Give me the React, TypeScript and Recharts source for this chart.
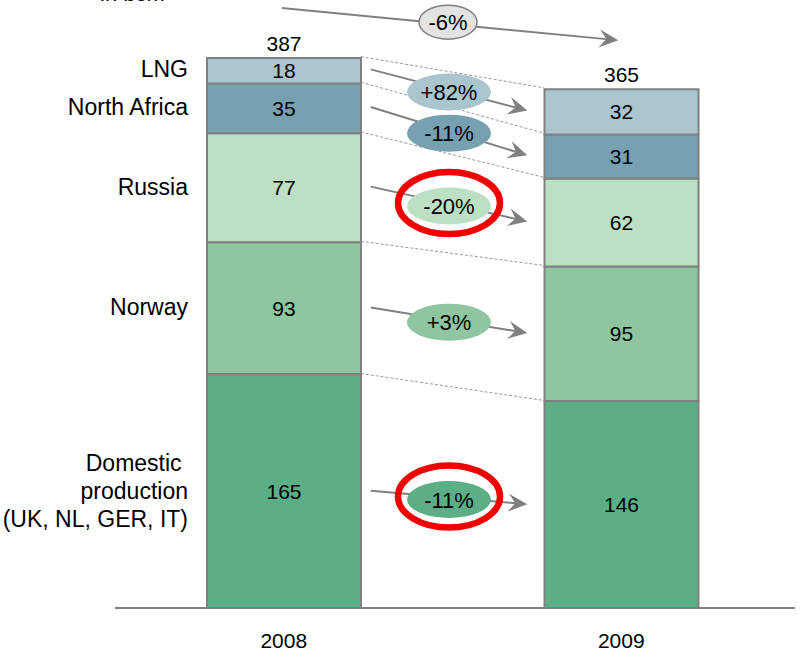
import React from 'react';
import { BarChart, Bar, XAxis, YAxis, LabelList, Customized } from 'recharts';

const years = ['2008', '2009'];
const domestic = [165, 146];
const norway = [93, 95];
const russia = [77, 62];
const northAfrica = [35, 31];
const lng = [18, 32];
const totals = [387, 365];
const changes = ['-11%', '+3%', '-20%', '-11%', '+82%'];
const totalChange = '-6%';

const series = [
  { key: 'domestic', label: ['Domestic ', 'production', '(UK, NL, GER, IT)'], values: domestic, color: '#5bae85', change: changes[0], ring: true },
  { key: 'norway', label: ['Norway'], values: norway, color: '#8fc5a0', change: changes[1], ring: false },
  { key: 'russia', label: ['Russia'], values: russia, color: '#bddfc4', change: changes[2], ring: true },
  { key: 'northAfrica', label: ['North Africa'], values: northAfrica, color: '#77a1b1', change: changes[3], ring: false },
  { key: 'lng', label: ['LNG'], values: lng, color: '#abc5ce', change: changes[4], ring: false },
];

const data = years.map((year, i) => {
  const row: any = { year, total: totals[i] };
  series.forEach((s) => (row[s.key] = s.values[i]));
  return row;
});

// layout, shared by the chart and the overlay
const W = 804;
const H = 672;
const margin = { top: 58, right: 9, bottom: 30, left: 115 };
const xAxisHeight = 34;
const xPad = { left: 0, right: 5 };
const yMax = 387;
const barSize = 154;
const plotBottom = H - margin.bottom - xAxisHeight;
const plotH = plotBottom - margin.top;
const yPx = (v: number) => plotBottom - (v / yMax) * plotH;
const bandW = (W - margin.left - margin.right - xPad.left - xPad.right) / years.length;
const xMid = (i: number) => margin.left + xPad.left + bandW * (i + 0.5);

const grey = '#808080';
const font = 'Liberation Sans, Arial, sans-serif';

function Arrow({ x1, y1, x2, y2 }: { x1: number; y1: number; x2: number; y2: number }) {
  const len = Math.hypot(x2 - x1, y2 - y1);
  const ux = (x2 - x1) / len;
  const uy = (y2 - y1) / len;
  const nx = -uy;
  const ny = ux;
  const pts = [
    [x2, y2],
    [x2 - 19 * ux + 9 * nx, y2 - 19 * uy + 9 * ny],
    [x2 - 12 * ux, y2 - 12 * uy],
    [x2 - 19 * ux - 9 * nx, y2 - 19 * uy - 9 * ny],
  ];
  return (
    <g>
      <line x1={x1} y1={y1} x2={x2 - 12 * ux} y2={y2 - 12 * uy} stroke={grey} strokeWidth={2} />
      <polygon points={pts.map((p) => p.join(',')).join(' ')} fill={grey} />
    </g>
  );
}

function Overlay() {
  const leftEdge = xMid(0) + barSize / 2;
  const rightEdge = xMid(1) - barSize / 2;
  const base = [0, 0];
  const items = series.map((s) => {
    const bottom = [...base];
    base[0] += s.values[0];
    base[1] += s.values[1];
    return { s, bottom, top: [...base] };
  });

  const ax1 = leftEdge + 10;
  const ax2 = rightEdge - 17;
  const tx1 = xMid(0) - 2;
  const ty1 = yPx(totals[0]) - 50;
  const tx2 = xMid(1) - 3;
  const ty2 = yPx(totals[1]) - 49;

  return (
    <g fontFamily={font}>
      <text x={100} y={1} fontSize={22} fill="#000">in bcm</text>

      {items.map(({ s, top }) => (
        <line key={'c' + s.key} x1={leftEdge} y1={yPx(top[0])} x2={rightEdge} y2={yPx(top[1])}
          stroke="#999" strokeWidth={1} strokeDasharray="3 2" />
      ))}

      {/* total change */}
      <Arrow x1={tx1} y1={ty1} x2={tx2} y2={ty2} />
      <ellipse cx={(tx1 + tx2) / 2 - 2} cy={(ty1 + ty2) / 2 - 2} rx={29} ry={17} fill="#e3e3e3" stroke={grey} strokeWidth={1.5} />
      <text x={(tx1 + tx2) / 2 - 2} y={(ty1 + ty2) / 2 + 6} fontSize={22} textAnchor="middle" fill="#000">{totalChange}</text>

      {items.map(({ s, bottom, top }) => {
        const c0 = yPx((bottom[0] + top[0]) / 2);
        const c1 = yPx((bottom[1] + top[1]) / 2);
        const ex = (ax1 + ax2) / 2;
        const ey = (c0 + c1) / 2 + 2;
        const lh = 28;
        const ly = c0 - ((s.label.length - 1) * lh) / 2 + 8;
        return (
          <g key={'a' + s.key}>
            <text x={188} y={ly} fontSize={23} textAnchor="end" fill="#000">
              {s.label.map((t, j) => (
                <tspan key={j} x={188} y={ly + j * lh}>{t}</tspan>
              ))}
            </text>
            <Arrow x1={ax1} y1={c0} x2={ax2} y2={c1} />
            <ellipse cx={ex} cy={ey} rx={42} ry={18.5} fill={s.color} />
            <text x={ex} y={ey + 8} fontSize={22} textAnchor="middle" fill="#000">{s.change}</text>
            {s.ring && (
              <ellipse cx={ex} cy={ey - 3} rx={51} ry={31} fill="none" stroke="#f00000" strokeWidth={6.5} />
            )}
          </g>
        );
      })}
    </g>
  );
}

export default function App() {
  return (
    <div style={{ position: 'absolute', left: 0, top: 0, width: W, height: H, background: '#fff', fontFamily: font }}>
      <BarChart width={W} height={H} data={data} margin={margin}>
        <XAxis
          dataKey="year"
          height={xAxisHeight}
          padding={xPad}
          axisLine={{ stroke: grey, strokeWidth: 2 }}
          tickLine={false}
          tickSize={0}
          tickMargin={25}
          tick={{ fill: '#000', fontSize: 21 }}
        />
        <YAxis hide domain={[0, yMax]} />
        {series.map((s, idx) => (
          <Bar key={s.key} dataKey={s.key} stackId="a" barSize={barSize} fill={s.color}
            stroke={grey} strokeWidth={2} isAnimationActive={false}>
            <LabelList dataKey={s.key} position="center" fill="#000" fontSize={21} />
            {idx === series.length - 1 && (
              <LabelList dataKey="total" position="top" offset={7} fill="#000" fontSize={21} />
            )}
          </Bar>
        ))}
        <Customized component={<Overlay />} />
      </BarChart>
    </div>
  );
}
